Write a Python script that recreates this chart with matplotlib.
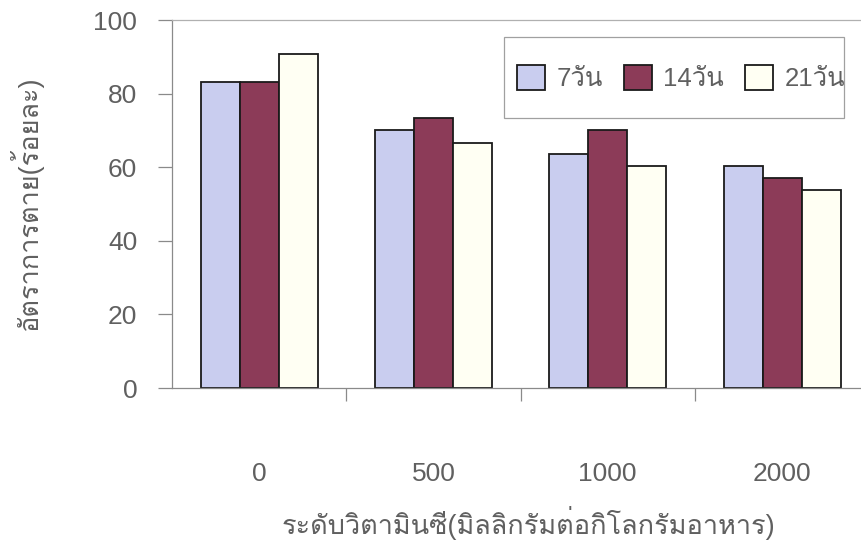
import matplotlib
matplotlib.use('Agg')
import matplotlib.pyplot as plt
from matplotlib import font_manager
from matplotlib.ft2font import FT2Font
from matplotlib.patches import Rectangle
import numpy as np

### DATA ###

doses = ['0', '500', '1000', '2000']
series_names = ['7วัน', '14วัน', '21วัน']
day7 = [83.2, 70.1, 63.6, 60.4]
day14 = [83.2, 73.4, 70.1, 57.2]
day21 = [90.7, 66.6, 60.4, 53.8]
y_ticks = [0, 20, 40, 60, 80, 100]

x_label = 'ระดับวิตามินซี(มิลลิกรัมต่อกิโลกรัมอาหาร)'
y_label = 'อัตราการตาย(ร้อยละ)'

### FONTS ###

# find an installed font that has Thai letters
thai_fonts = []
for entry in font_manager.fontManager.ttflist:
  try:
    if 0x0E27 in FT2Font(entry.fname).get_charmap():
      if entry.name not in thai_fonts:
        thai_fonts.append(entry.name)
  except Exception:
    pass

plt.rcParams['font.family'] = ['Liberation Sans'] + thai_fonts + ['DejaVu Sans']
text_grey = '#606060'
axis_grey = '#8a8a8a'

### PLOT ###

fig = plt.figure(figsize=(8.62, 5.43), dpi=100)
ax = fig.add_axes([172 / 862, 155 / 543, 690 / 862, 368 / 543])

x = np.arange(len(doses))
width = 39 / 174.3
colors = ['#c9cdef', '#8c3b58', '#fffff3']
for i, values in enumerate([day7, day14, day21]):
  ax.bar(x + (i - 1) * width, values, width, color=colors[i],
         edgecolor='#1a1a1a', linewidth=1.3, label=series_names[i])

ax.set_xlim(-0.5, -0.5 + 690 / 174.3)
ax.set_ylim(0, 100)

# y axis
ax.set_yticks(y_ticks)
ax.tick_params(axis='y', direction='out', length=10, width=0.9, color=axis_grey,
               pad=15, labelsize=19, labelcolor=text_grey)

# x axis: labels under the groups, marks between them
ax.set_xticks(x)
ax.set_xticklabels(doses)
ax.set_xticks(x[:-1] + 0.5, minor=True)
ax.tick_params(axis='x', which='major', length=0, pad=53, labelsize=19,
               labelcolor=text_grey)
ax.tick_params(axis='x', which='minor', direction='out', length=9, width=0.9,
               color=axis_grey)

for side in ['left', 'bottom', 'top']:
  ax.spines[side].set_color(axis_grey)
  ax.spines[side].set_linewidth(0.9)
ax.spines['top'].set_color('#b0b0b0')
ax.spines['right'].set_visible(False)

ax.set_xlabel(x_label, fontsize=19.5, color=text_grey)
ax.xaxis.set_label_coords((528 - 172) / 690, (388 - 523) / 368)
ax.xaxis.label.set_verticalalignment('center')
ax.set_ylabel(y_label, fontsize=19.5, color=text_grey)
ax.yaxis.set_label_coords((26 - 172) / 690, (388 - 203) / 368)
ax.yaxis.label.set_verticalalignment('center')

# legend with its own box
legend = ax.legend(ncol=3, frameon=False, fontsize=18.5, loc='center',
                   bbox_to_anchor=(681 / 862, 1 - 78 / 543),
                   bbox_transform=fig.transFigure,
                   handlelength=1.1, handleheight=1.15, handletextpad=0.45,
                   columnspacing=0.8)
for t in legend.get_texts():
  t.set_color(text_grey)
fig.patches.append(Rectangle((504 / 862, 1 - 118 / 543), 340 / 862, 81 / 543,
                             transform=fig.transFigure, fill=False,
                             edgecolor='#a0a0a0', linewidth=0.9))

fig.savefig('out.png', dpi=100)
